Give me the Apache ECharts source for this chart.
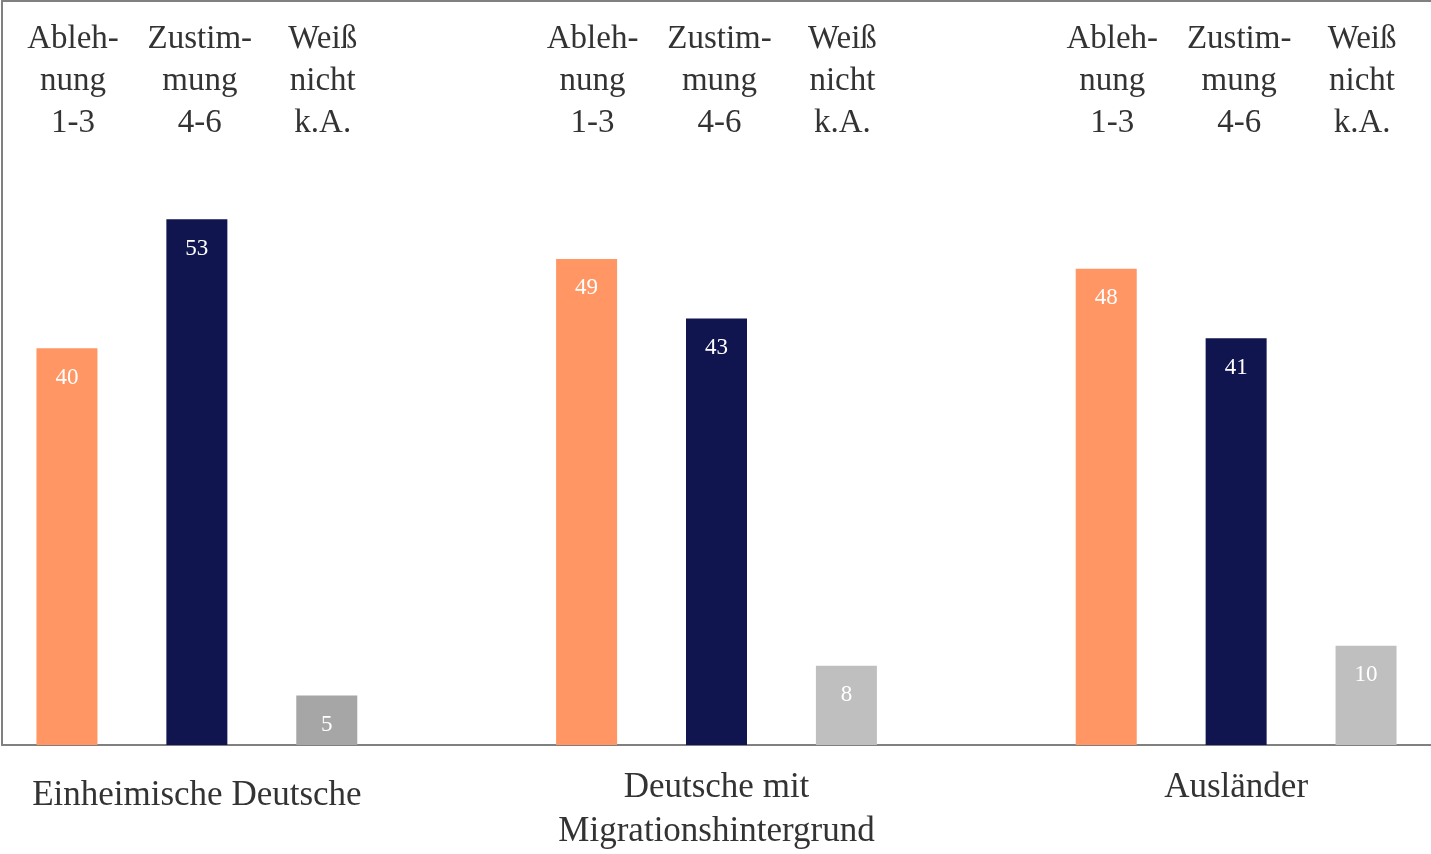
<!DOCTYPE html>
<html>
<head>
<meta charset="utf-8">
<style>
  html, body { margin: 0; padding: 0; background: #fff; }
  #chart { width: 1431px; height: 854px; }
</style>
<script src="https://cdn.jsdelivr.net/npm/echarts@6/dist/echarts.min.js"></script>
</head>
<body>
<div id="chart"></div>
<script>
// Gruppen und Antwortkategorien
const groups = ['Einheimische Deutsche', 'Deutsche mit\nMigrationshintergrund', 'Ausländer'];
const answers = ['Ableh-\nnung\n1-3', 'Zustim-\nmung\n4-6', 'Weiß\nnicht\nk.A.'];

// Werte in Prozent
const ablehnung = [40, 49, 48];
const zustimmung = [53, 43, 41];
const weissNicht = [5, 8, 10];

const colAbl = '#ff9664';
const colZus = '#10154f';
const colWeiss = ['#a6a6a6', '#bfbfbf', '#bfbfbf'];

// Kopfbeschriftungen sitzen im Original leicht versetzt zu den Balken
const topPad = [[0, 0, 0, 12], [0, 0, 0, 6], [0, 8, 0, 0]];

// 11 Slots: je 3 Balken pro Gruppe, dazwischen eine Lücke
const slotsBottom = [];
const slotsTop = [];
const barData = [];
groups.forEach((g, i) => {
  const vals = [ablehnung[i], zustimmung[i], weissNicht[i]];
  const cols = [colAbl, colZus, colWeiss[i]];
  for (let k = 0; k < 3; k++) {
    slotsBottom.push(k === 1
      ? { value: g, textStyle: { padding: [i === 0 ? 9 : 1, 0, 0, 0] } }
      : '');
    slotsTop.push({ value: answers[k], textStyle: { padding: topPad[k] } });
    barData.push({ value: vals[k], itemStyle: { color: cols[k] } });
  }
  if (i < groups.length - 1) {
    slotsBottom.push('');
    slotsTop.push('');
    barData.push('-');
  }
});

const serif = '"Liberation Serif", "DejaVu Serif", serif';
const chart = echarts.init(document.getElementById('chart'));
chart.setOption({
  animation: false,
  grid: { left: 2, right: 0, top: 1, bottom: 107 },
  xAxis: [
    {
      type: 'category',
      data: slotsBottom,
      axisLine: { lineStyle: { color: '#808080', width: 2 } },
      axisTick: { show: false },
      axisLabel: {
        interval: 0,
        margin: 20,
        verticalAlign: 'top',
        fontFamily: serif,
        fontSize: 35,
        lineHeight: 44,
        color: '#333'
      }
    },
    {
      type: 'category',
      position: 'top',
      data: slotsTop,
      axisLine: { lineStyle: { color: '#808080', width: 2 } },
      axisTick: { show: false },
      axisLabel: {
        interval: 0,
        inside: true,
        margin: 17,
        verticalAlign: 'top',
        fontFamily: serif,
        fontSize: 33,
        lineHeight: 42,
        color: '#333'
      }
    }
  ],
  yAxis: {
    type: 'value',
    min: 0,
    max: 75,
    axisLine: { show: true, lineStyle: { color: '#808080', width: 2 } },
    axisTick: { show: false },
    axisLabel: { show: false },
    splitLine: { show: false }
  },
  series: [{
    type: 'bar',
    barWidth: 61,
    data: barData,
    label: {
      show: true,
      position: 'insideTop',
      distance: 18,
      color: '#fff',
      fontFamily: serif,
      fontSize: 23
    }
  }]
});
</script>
</body>
</html>
